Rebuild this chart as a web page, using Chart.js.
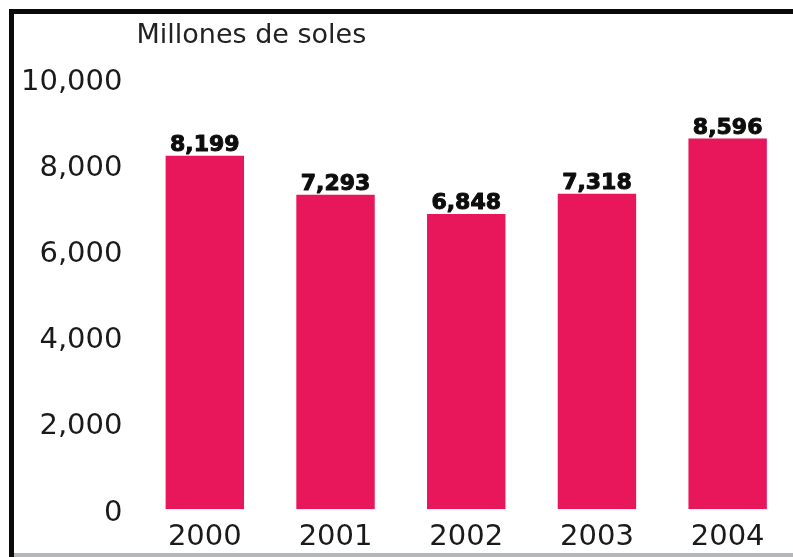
<!DOCTYPE html>
<html>
<head>
<meta charset="utf-8">
<script src="https://cdn.jsdelivr.net/npm/chart.js@4/dist/chart.umd.min.js"></script>
<style>
  html, body { margin: 0; padding: 0; background: #fff; }
  #wrap { position: relative; width: 793px; height: 557px; overflow: hidden; }
  #frame {
    position: absolute; left: 9px; top: 9px; right: -10px; bottom: 0;
    border-left: 5px solid #0a0a0a; border-top: 5px solid #0a0a0a;
  }
  #base {
    position: absolute; left: 14px; right: 0; bottom: 0; height: 4px;
    background: #b4b6b8;
  }
  canvas { position: absolute; left: 0; top: 0; }
</style>
</head>
<body>
<div id="wrap">
  <div id="frame"></div>
  <div id="base"></div>
  <canvas id="c" width="793" height="557"></canvas>
</div>
<script>
// Annual amounts, in millions of soles
const years = ['2000', '2001', '2002', '2003', '2004'];
const amounts = [8199, 7293, 6848, 7318, 8596];
const yTicks = [0, 2000, 4000, 6000, 8000, 10000];
const unitLabel = 'Millones de soles';

const barColor = '#e8175b';
const inkColor = '#1a1a1a';
const fmt = v => v.toLocaleString('en-US');

// Unit caption above the plot, aligned with the start of the plot area
const unitCaption = {
  id: 'unitCaption',
  afterDraw(chart) {
    const { ctx, chartArea } = chart;
    ctx.save();
    ctx.font = '27px "DejaVu Sans"';
    ctx.fillStyle = '#222';
    ctx.textAlign = 'left';
    ctx.textBaseline = 'alphabetic';
    ctx.fillText(unitLabel, chartArea.left - 3, chartArea.top - 35);
    ctx.restore();
  }
};

// Heavy value written just above each bar
const barValues = {
  id: 'barValues',
  afterDatasetsDraw(chart) {
    const { ctx } = chart;
    const meta = chart.getDatasetMeta(0);
    ctx.save();
    ctx.font = 'bold 22px "DejaVu Sans"';
    ctx.fillStyle = '#0d0d0d';
    ctx.strokeStyle = '#0d0d0d';
    ctx.lineWidth = 1;
    ctx.lineJoin = 'round';
    ctx.textAlign = 'center';
    ctx.textBaseline = 'alphabetic';
    meta.data.forEach((bar, i) => {
      const t = fmt(amounts[i]);
      ctx.strokeText(t, bar.x, bar.y - 5);
      ctx.fillText(t, bar.x, bar.y - 5);
    });
    ctx.restore();
  }
};

new Chart(document.getElementById('c'), {
  type: 'bar',
  data: {
    labels: years,
    datasets: [{
      data: amounts,
      backgroundColor: barColor,
      borderWidth: 0,
      barPercentage: 0.6,
      categoryPercentage: 1.0
    }]
  },
  options: {
    responsive: false,
    animation: false,
    devicePixelRatio: 1,
    layout: { padding: { left: 4, right: 0, top: 78, bottom: -8 } },
    plugins: {
      legend: { display: false },
      title: { display: false },
      tooltip: { enabled: false }
    },
    scales: {
      x: {
        grid: { display: false, drawTicks: false },
        border: { display: false },
        ticks: {
          color: inkColor,
          font: { family: '"DejaVu Sans"', size: 29 },
          padding: 10.5,
          maxRotation: 0
        }
      },
      y: {
        min: 0,
        max: 10000,
        afterBuildTicks(scale) {
          scale.ticks = yTicks.map(v => ({ value: v }));
        },
        grid: { display: false, drawTicks: false },
        border: { display: false },
        ticks: {
          color: inkColor,
          font: { family: '"DejaVu Sans"', size: 29 },
          padding: 17,
          labelOffset: 4,
          callback: v => fmt(v)
        }
      }
    }
  },
  plugins: [unitCaption, barValues]
});
</script>
</body>
</html>
